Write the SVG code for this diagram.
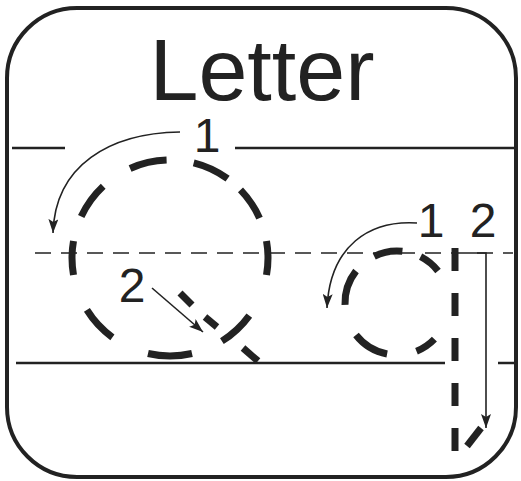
<svg xmlns="http://www.w3.org/2000/svg" width="521" height="481" viewBox="0 0 521 481">
<style>
.frame{fill:none;stroke:#222;stroke-width:4}
.guide{fill:none;stroke:#222;stroke-width:2.5}
.mid{fill:none;stroke:#222;stroke-width:1.5;stroke-dasharray:16 10}
.dash{fill:none;stroke:#222;stroke-width:7}
.arrow{fill:none;stroke:#222;stroke-width:1.6}
.lbl{font-family:"Liberation Sans",Arial,sans-serif;fill:#222;text-anchor:middle}
</style>
<defs>
<marker id="ah" viewBox="0 0 14 10" refX="14" refY="5" markerWidth="14" markerHeight="10" markerUnits="userSpaceOnUse" orient="auto">
<path d="M0,0 L14,5 L0,10 L3,5 z" fill="#222"/>
</marker>
</defs>
<rect class="frame" x="7" y="8" width="509" height="469" rx="70" ry="70" fill="#fff"/>
<text class="lbl" x="262" y="100" font-size="88">Letter</text>
<g id="guides">
<line class="guide" x1="12" y1="148" x2="65" y2="148"/>
<line class="guide" x1="235" y1="148" x2="514" y2="148"/>
<line class="mid" x1="35" y1="253" x2="513" y2="253"/>
<line class="guide" x1="16" y1="363" x2="445" y2="363"/>
<line class="guide" x1="498" y1="363" x2="514" y2="363"/>
</g>
<g id="upper-q">
<path class="dash" d="M266.5,241 A98,98 0 0 1 266.5,275"/>
<path class="dash" d="M249.3,315.6 A98,98 0 0 1 221.9,341.1"/>
<path class="dash" d="M192,353.5 A98,98 0 0 1 148,353.5"/>
<path class="dash" d="M112.4,337.3 A98,98 0 0 1 86.9,309.9"/>
<path class="dash" d="M73.5,275 A98,98 0 0 1 73.5,241"/>
<path class="dash" d="M81.2,216.6 A98,98 0 0 1 103.2,186.3"/>
<path class="dash" d="M130.1,168.5 A98,98 0 0 1 166.6,160.1"/>
<path class="dash" d="M193.7,162.9 A98,98 0 0 1 227.6,178.7"/>
<path class="dash" d="M240.5,189.9 A98,98 0 0 1 259.5,218.1"/>
<line class="dash" x1="180" y1="293" x2="192" y2="305" stroke-width="6"/>
<line class="dash" x1="205" y1="317" x2="217" y2="327" stroke-width="6"/>
<line class="dash" x1="243" y1="348" x2="258" y2="361" stroke-width="6"/>
</g>
<g id="lower-q">
<path class="dash" d="M374.2,256.3 A52,52 0 0 1 402.4,251.3"/>
<path class="dash" d="M420.6,256.7 A52,52 0 0 1 438,271"/>
<path class="dash" d="M345,304.8 A52,52 0 0 1 356,271"/>
<path class="dash" d="M387.1,354 A52,52 0 0 1 356,335"/>
<path class="dash" d="M434.4,339.1 A52,52 0 0 1 416.5,351.2"/>
<line class="dash" x1="455" y1="248" x2="455" y2="451" stroke-width="6" stroke-dasharray="23 22"/>
<line class="dash" x1="467" y1="446" x2="481" y2="428" stroke-width="6"/>
</g>
<g id="connectors">
<path class="arrow" d="M180,132 C110,133 55,165 53,233" marker-end="url(#ah)"/>
<path class="arrow" d="M152,288 L203,332" marker-end="url(#ah)"/>
<path class="arrow" d="M417,223 C370,220 330,245 327,308" marker-end="url(#ah)"/>
<path class="arrow" d="M467,253 L486,253 L486,428" marker-end="url(#ah)"/>
</g>
<g id="labels">
<text class="lbl" x="207" y="152" font-size="48">1</text>
<text class="lbl" x="132" y="302" font-size="48">2</text>
<text class="lbl" x="431" y="237" font-size="48">1</text>
<text class="lbl" x="483" y="237" font-size="48">2</text>
</g>
</svg>
